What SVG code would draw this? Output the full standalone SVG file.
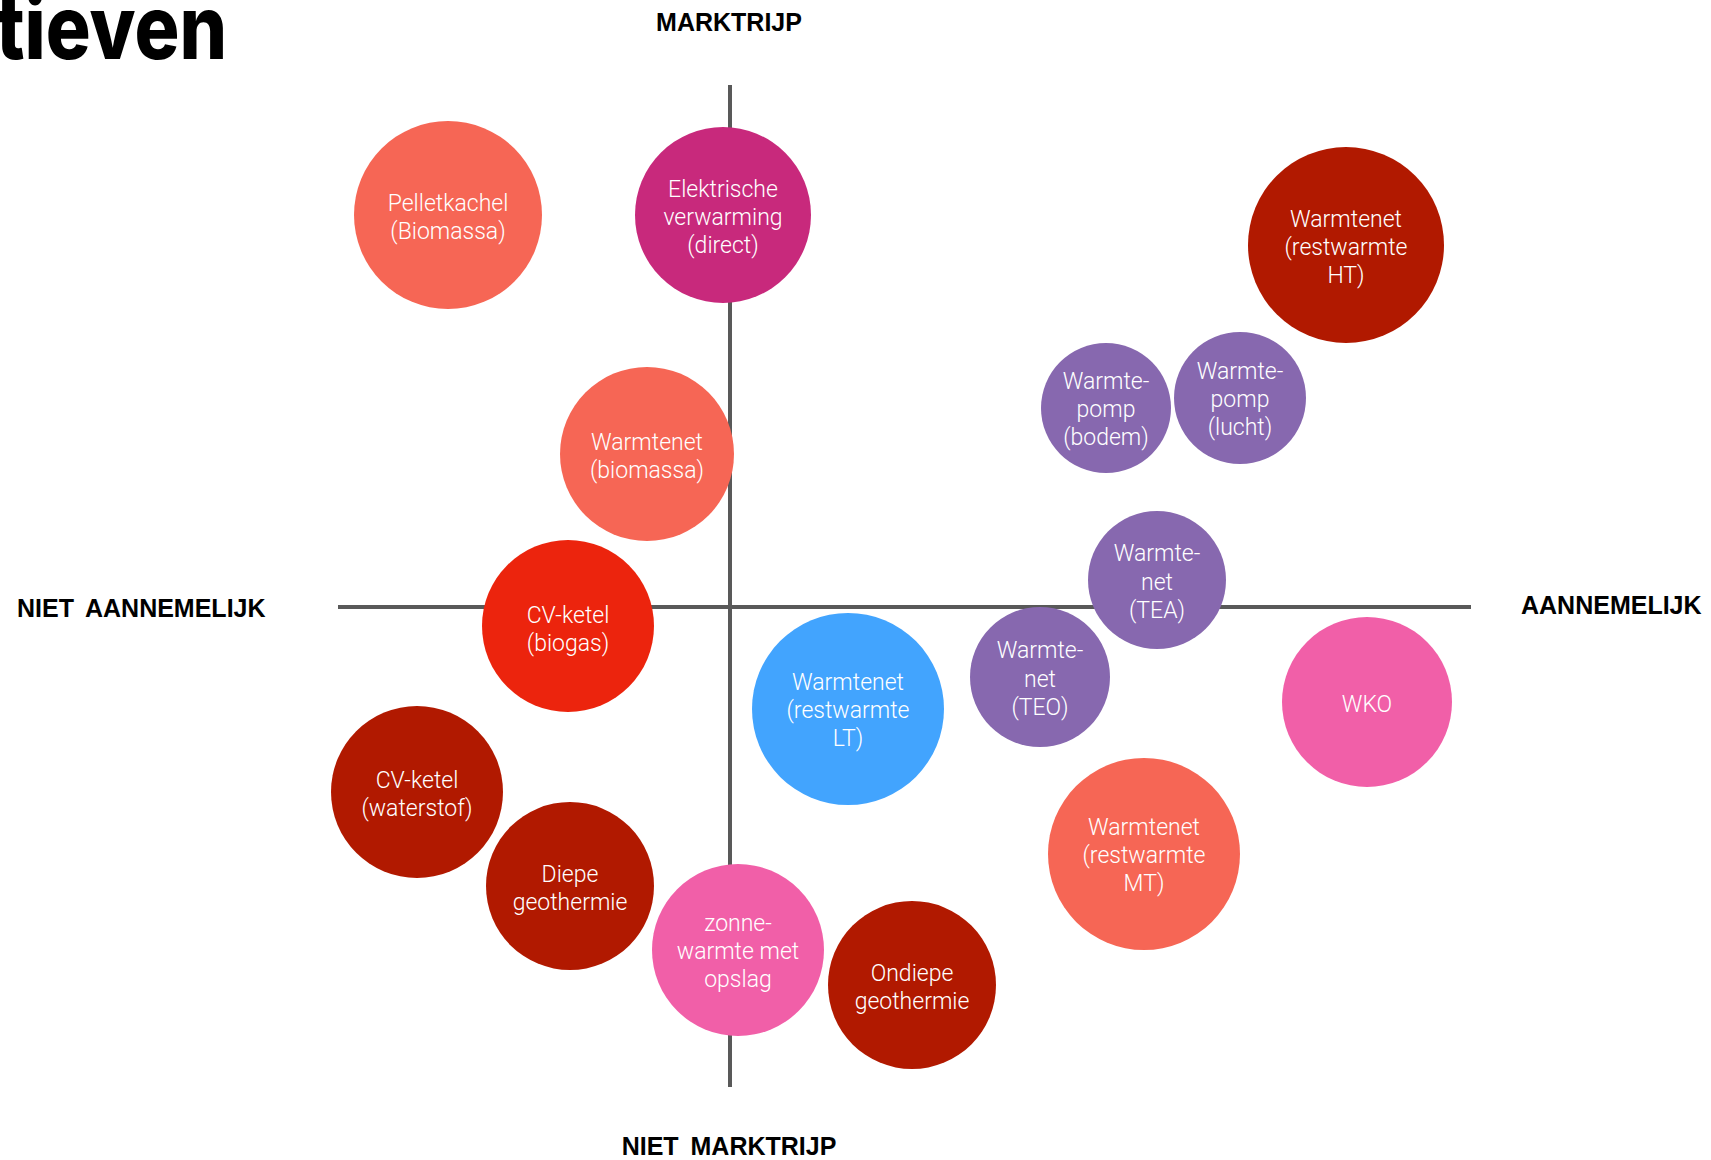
<svg xmlns="http://www.w3.org/2000/svg" width="1711" height="1160" viewBox="0 0 1711 1160">
<style>
.lbl{font-family:Roboto,"Liberation Sans",Arial,sans-serif;font-weight:300;font-size:23px;fill:#ffffff;text-anchor:middle}
.ax{font-family:"Liberation Sans",Arial,sans-serif;font-weight:700;font-size:25px;fill:#000000;word-spacing:5px}
.axis{stroke:#595959;stroke-width:4;fill:none}
.salmon{fill:#F66655}
.magenta{fill:#C8297C}
.dred{fill:#B11900}
.purple{fill:#8768AF}
.red{fill:#EC240D}
.blue{fill:#42A4FE}
.pink{fill:#F15FA8}
</style>
<rect width="1711" height="1160" fill="#ffffff"/>
<text x="-4" y="59" font-family="Inter,'Liberation Sans',Arial,sans-serif" font-weight="800" font-size="88" textLength="231" lengthAdjust="spacingAndGlyphs" fill="#000000">tieven</text>
<g id="axes">
<line class="axis" x1="730" y1="85" x2="730" y2="1087"/>
<line class="axis" x1="338" y1="607" x2="1471" y2="607"/>
</g>
<g id="connectors"/>
<g id="axis-labels">
<text class="ax" x="729" y="31" text-anchor="middle">MARKTRIJP</text>
<text class="ax" x="729" y="1155" text-anchor="middle">NIET MARKTRIJP</text>
<text class="ax" x="17" y="617">NIET AANNEMELIJK</text>
<text class="ax" x="1521" y="614">AANNEMELIJK</text>
</g>
<g id="pelletkachel"><circle class="salmon" cx="448" cy="215" r="94"/><text class="lbl" x="448" y="211">Pelletkachel</text><text class="lbl" x="448" y="239">(Biomassa)</text></g>
<g id="elektrische"><circle class="magenta" cx="723" cy="215" r="88"/><text class="lbl" x="723" y="197">Elektrische</text><text class="lbl" x="723" y="225">verwarming</text><text class="lbl" x="723" y="253">(direct)</text></g>
<g id="warmtenet-ht"><circle class="dred" cx="1346" cy="245" r="98"/><text class="lbl" x="1346" y="227">Warmtenet</text><text class="lbl" x="1346" y="255">(restwarmte</text><text class="lbl" x="1346" y="283">HT)</text></g>
<g id="warmtepomp-bodem"><circle class="purple" cx="1106" cy="408" r="65"/><text class="lbl" x="1106" y="389">Warmte-</text><text class="lbl" x="1106" y="417">pomp</text><text class="lbl" x="1106" y="445">(bodem)</text></g>
<g id="warmtepomp-lucht"><circle class="purple" cx="1240" cy="398" r="66"/><text class="lbl" x="1240" y="379">Warmte-</text><text class="lbl" x="1240" y="407">pomp</text><text class="lbl" x="1240" y="435">(lucht)</text></g>
<g id="warmtenet-biomassa"><circle class="salmon" cx="647" cy="454" r="87"/><text class="lbl" x="647" y="450">Warmtenet</text><text class="lbl" x="647" y="478">(biomassa)</text></g>
<g id="warmtenet-tea"><circle class="purple" cx="1157" cy="580" r="69"/><text class="lbl" x="1157" y="561">Warmte-</text><text class="lbl" x="1157" y="590">net</text><text class="lbl" x="1157" y="618">(TEA)</text></g>
<g id="cv-ketel-biogas"><circle class="red" cx="568" cy="626" r="86"/><text class="lbl" x="568" y="623">CV-ketel</text><text class="lbl" x="568" y="651">(biogas)</text></g>
<g id="warmtenet-lt"><circle class="blue" cx="848" cy="709" r="96"/><text class="lbl" x="848" y="690">Warmtenet</text><text class="lbl" x="848" y="718">(restwarmte</text><text class="lbl" x="848" y="746">LT)</text></g>
<g id="warmtenet-teo"><circle class="purple" cx="1040" cy="677" r="70"/><text class="lbl" x="1040" y="658">Warmte-</text><text class="lbl" x="1040" y="687">net</text><text class="lbl" x="1040" y="715">(TEO)</text></g>
<g id="wko"><circle class="pink" cx="1367" cy="702" r="85"/><text class="lbl" x="1367" y="712">WKO</text></g>
<g id="warmtenet-mt"><circle class="salmon" cx="1144" cy="854" r="96"/><text class="lbl" x="1144" y="835">Warmtenet</text><text class="lbl" x="1144" y="863">(restwarmte</text><text class="lbl" x="1144" y="891">MT)</text></g>
<g id="cv-ketel-waterstof"><circle class="dred" cx="417" cy="792" r="86"/><text class="lbl" x="417" y="788">CV-ketel</text><text class="lbl" x="417" y="816">(waterstof)</text></g>
<g id="diepe-geothermie"><circle class="dred" cx="570" cy="886" r="84"/><text class="lbl" x="570" y="882">Diepe</text><text class="lbl" x="570" y="910">geothermie</text></g>
<g id="zonnewarmte"><circle class="pink" cx="738" cy="950" r="86"/><text class="lbl" x="738" y="931">zonne-</text><text class="lbl" x="738" y="959">warmte met</text><text class="lbl" x="738" y="987">opslag</text></g>
<g id="ondiepe-geothermie"><circle class="dred" cx="912" cy="985" r="84"/><text class="lbl" x="912" y="981">Ondiepe</text><text class="lbl" x="912" y="1009">geothermie</text></g>
</svg>
